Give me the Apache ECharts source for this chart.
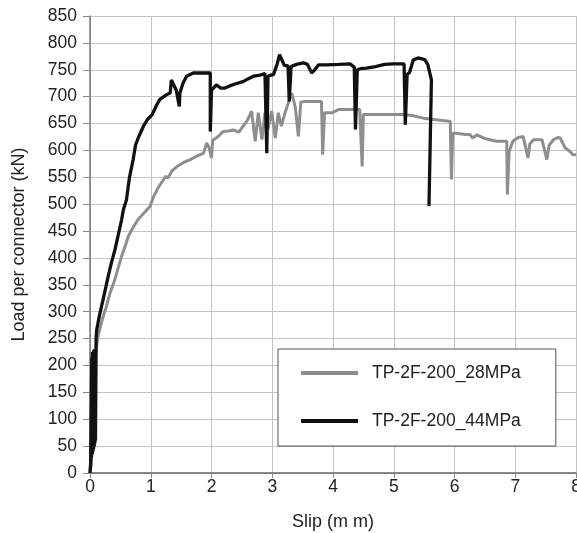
<!DOCTYPE html>
<html>
<head>
<meta charset="utf-8">
<script src="https://cdn.jsdelivr.net/npm/echarts@6/dist/echarts.min.js"></script>
<style>html,body{margin:0;padding:0;background:#fff}#c{width:577px;height:533px}</style>
</head>
<body>
<div id="c"></div>
<script>
var seriesNames = ['TP-2F-200_28MPa', 'TP-2F-200_44MPa'];
var xTicks = [0, 1, 2, 3, 4, 5, 6, 7, 8];
var yTicks = [0, 50, 100, 150, 200, 250, 300, 350, 400, 450, 500, 550, 600, 650, 700, 750, 800, 850];

var slip28 = [0,0.05,0.09,0.12,0.14,0.2,0.27,0.33,0.41,0.46,0.52,0.58,0.63,0.7,0.8,0.9,0.99,1.05,1.12,1.21,1.25,1.28,1.35,1.43,1.55,1.65,1.75,1.87,1.92,1.96,2.0,2.02,2.1,2.19,2.28,2.36,2.45,2.52,2.58,2.63,2.66,2.72,2.77,2.83,2.88,2.93,2.99,3.05,3.1,3.15,3.21,3.27,3.32,3.38,3.43,3.47,3.55,3.68,3.81,3.83,3.86,3.98,4.09,4.3,4.44,4.48,4.5,4.6,4.9,5.16,5.3,5.49,5.7,5.93,5.95,5.97,6.03,6.15,6.26,6.3,6.37,6.5,6.69,6.86,6.87,6.9,6.96,7.05,7.13,7.21,7.24,7.3,7.44,7.52,7.56,7.63,7.7,7.74,7.82,7.9,7.95,8.0];
var load28 = [0,120,220,245,258,285,310,335,360,380,403,422,440,455,473,485,496,515,530,546,552,548,562,570,578,583,589,595,614,605,586,619,625,635,636,638,634,645,654,665,673,617,670,620,670,639,673,623,670,645,670,690,707,680,626,690,691,691,691,592,670,670,676,676,676,570,667,667,667,667,665,660,657,654,546,632,632,630,629,623,629,622,617,617,518,598,617,624,626,586,612,620,620,583,610,620,624,623,605,598,592,592];

var slip44 = [0,0.02,0.01,0.03,0.015,0.04,0.025,0.05,0.04,0.06,0.05,0.07,0.06,0.08,0.07,0.09,0.08,0.1,0.09,0.11,0.1,0.11,0.15,0.19,0.25,0.30,0.35,0.41,0.46,0.52,0.55,0.6,0.65,0.71,0.75,0.8,0.88,0.95,1.02,1.1,1.15,1.25,1.32,1.34,1.42,1.47,1.48,1.53,1.59,1.70,1.98,1.98,2.0,2.03,2.08,2.15,2.22,2.3,2.4,2.52,2.6,2.69,2.8,2.88,2.90,2.91,2.93,2.97,3.02,3.08,3.12,3.2,3.26,3.28,3.31,3.4,3.51,3.58,3.65,3.7,3.76,3.9,4.1,4.28,4.35,4.37,4.4,4.45,4.55,4.7,4.85,4.99,5.17,5.19,5.22,5.26,5.32,5.4,5.51,5.56,5.62,5.58];
var load44 = [0,30,10,215,20,225,30,225,35,228,40,230,45,230,50,230,55,230,60,62,250,266,290,310,340,366,390,415,440,471,490,508,550,583,610,625,645,658,666,685,695,703,707,731,712,682,707,725,738,744,744,635,712,713,722,716,716,720,724,728,733,738,740,743,743,595,738,740,741,760,778,758,757,691,756,760,763,760,744,750,759,759,760,761,755,639,750,752,753,756,760,761,761,648,741,745,768,772,769,760,731,496];

function zip(xs, ys) { return xs.map(function (x, i) { return [x, ys[i]]; }); }

var chart = echarts.init(document.getElementById('c'));
var font = 'Liberation Sans, Arial, sans-serif';
chart.setOption({
  animation: false,
  grid: { left: 90, right: 1, top: 16, bottom: 60, containLabel: false, outerBoundsMode: 'none' },
  xAxis: {
    type: 'value', min: 0, max: 8, interval: 1,
    name: 'Slip (m m)', nameLocation: 'middle', nameGap: 40,
    nameTextStyle: { fontFamily: font, fontSize: 18, color: '#222' },
    axisLine: { lineStyle: { color: '#666', width: 1.5 } },
    axisTick: { show: true, length: 5, lineStyle: { color: '#888' } },
    axisLabel: { fontFamily: font, fontSize: 17.5, color: '#222', margin: 5, hideOverlap: false,
      formatter: function (v) { return xTicks.indexOf(v) >= 0 ? String(v) : ''; } },
    splitLine: { show: true, lineStyle: { color: '#c4c4c4', width: 1 } }
  },
  yAxis: {
    type: 'value', min: 0, max: 850, interval: 50,
    name: 'Load per connector (kN)', nameLocation: 'middle', nameGap: 62,
    nameTextStyle: { fontFamily: font, fontSize: 18, color: '#222' },
    axisLine: { show: true, lineStyle: { color: '#777', width: 1.5 } },
    axisTick: { show: true, length: 7, lineStyle: { color: '#888' } },
    axisLabel: { fontFamily: font, fontSize: 17.5, color: '#222', margin: 13,
      formatter: function (v) { return yTicks.indexOf(v) >= 0 ? String(v) : ''; } },
    splitLine: { show: true, lineStyle: { color: '#c4c4c4', width: 1 } }
  },
  legend: {
    orient: 'vertical', left: 278, top: 349,
    data: seriesNames,
    backgroundColor: '#fff',
    borderColor: '#555', borderWidth: 1, borderRadius: 0,
    padding: [15, 35, 16, 23],
    itemWidth: 57, itemHeight: 4, itemGap: 30,
    textStyle: { fontFamily: font, fontSize: 17.5, color: '#222', padding: [0, 0, 0, 9] },
    icon: 'rect'
  },
  series: [
    { name: seriesNames[0], type: 'line', data: zip(slip28, load28), showSymbol: false, symbol: 'none',
      lineStyle: { color: '#8e8e8e', width: 3 }, itemStyle: { color: '#8e8e8e' }, z: 2 },
    { name: seriesNames[1], type: 'line', data: zip(slip44, load44), showSymbol: false, symbol: 'none',
      lineStyle: { color: '#111', width: 3.3 }, itemStyle: { color: '#111' }, z: 3 }
  ]
});
</script>
</body>
</html>
